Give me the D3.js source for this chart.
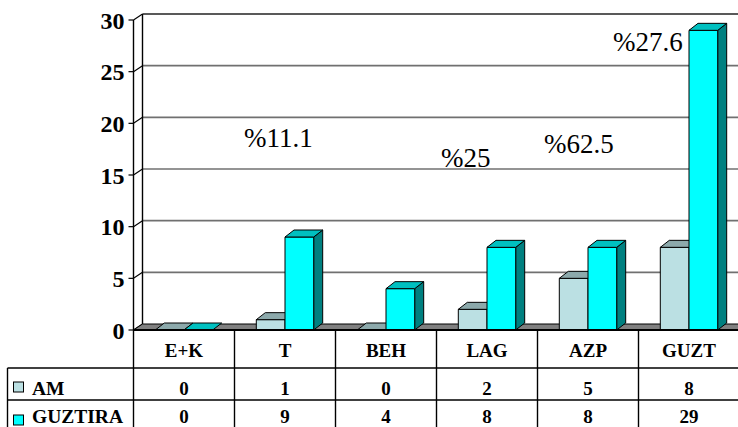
<!DOCTYPE html>
<html><head><meta charset="utf-8">
<script src="https://cdn.jsdelivr.net/npm/d3@7"></script>
<style>
html,body{margin:0;padding:0;background:#fff;}
svg{display:block;}
</style></head>
<body>
<script>
// ---- data ----
const categories = ["E+K", "T", "BEH", "LAG", "AZP", "GUZT"];
const seriesNames = ["AM", "GUZTIRA"];
const amValues = [0, 1, 0, 2, 5, 8];
const guztiraValues = [0, 9, 4, 8, 8, 29];
const yTicks = [0, 5, 10, 15, 20, 25, 30];
const pctLabels = ["%11.1", "%25", "%62.5", "%27.6"];
const pctCategories = ["T", "LAG", "AZP", "GUZT"];

// ---- layout ----
const W = 738, H = 427;
const FONT = "Liberation Serif";
const svg = d3.select("body").append("svg").attr("width", W).attr("height", H)
  .attr("font-family", FONT);

const x = d3.scaleBand().domain(categories).range([133.5, 739.5]).padding(0);
const y = d3.scaleLinear().domain([0, 30]).range([330, 20]);
const dx = 9, dy = -6;        // wall depth
const bdx = 9, bdy = -7;      // bar depth
const barW = 28.7;

const colors = {
  AM: {front: "#BBE0E3", top: "#8CA9AB", side: "#5E7A7C"},
  GUZTIRA: {front: "#00FFFF", top: "#00C0C0", side: "#008080"}
};

const g = svg.append("g");

yTicks.forEach(v => {
  const yy = y(v);
  if (v > 0 && v < 30) {
    g.append("line").attr("x1", 133.5 + dx).attr("x2", W + 2)
      .attr("y1", yy + dy).attr("y2", yy + dy)
      .attr("stroke", "#707070").attr("stroke-width", 1.6);
  }
  g.append("line").attr("x1", 133.5).attr("y1", yy).attr("x2", 133.5 + dx).attr("y2", yy + dy)
    .attr("stroke", "#000").attr("stroke-width", 1.2);
});
g.append("line").attr("x1", 133.5 + dx).attr("x2", W + 2)
  .attr("y1", y(30) + dy).attr("y2", y(30) + dy)
  .attr("stroke", "#222").attr("stroke-width", 1.6);
g.append("line").attr("x1", 133.5 + dx).attr("x2", 133.5 + dx)
  .attr("y1", y(30) + dy).attr("y2", y(0) + dy)
  .attr("stroke", "#000").attr("stroke-width", 1.4);

g.append("path")
  .attr("d", `M133.5,${y(0)} L${133.5 + dx},${y(0) + dy} L${W + 20},${y(0) + dy} L${W + 20},${y(0)} Z`)
  .attr("fill", "#808080").attr("stroke", "#000").attr("stroke-width", 1);

function bar(x0, v, c) {
  const x1 = x0 + barW, yt = y(v), yb = y(0);
  const bg = g.append("g").attr("stroke", "#000").attr("stroke-width", 1).attr("stroke-linejoin", "round");
  if (v > 0) {
    bg.append("path").attr("d", `M${x1},${yb} L${x1 + bdx},${yb + bdy} L${x1 + bdx},${yt + bdy} L${x1},${yt} Z`).attr("fill", c.side);
    bg.append("rect").attr("x", x0).attr("y", yt).attr("width", barW).attr("height", yb - yt).attr("fill", c.front);
  }
  bg.append("path").attr("d", `M${x0},${yt} L${x0 + bdx},${yt + bdy} L${x1 + bdx},${yt + bdy} L${x1},${yt} Z`).attr("fill", c.top);
}
categories.forEach((cat, i) => {
  const c = x(cat) + x.bandwidth() / 2;
  bar(c - barW, amValues[i], colors.AM);
  bar(c, guztiraValues[i], colors.GUZTIRA);
});

g.append("line").attr("x1", 133.5).attr("x2", 133.5).attr("y1", y(30)).attr("y2", y(0))
  .attr("stroke", "#000").attr("stroke-width", 1.4);
yTicks.forEach(v => {
  g.append("line").attr("x1", 128.5).attr("x2", 133.5).attr("y1", y(v)).attr("y2", y(v))
    .attr("stroke", "#000").attr("stroke-width", 1.2);
  g.append("text").attr("x", 124.5).attr("y", y(v) + 8.5).attr("text-anchor", "end")
    .attr("font-family", FONT).attr("font-size", 24).attr("font-weight", "bold").text(v);
});

const pctOffsets = {T: [-41, 147], LAG: [-46, 167], AZP: [-44, 153], GUZT: [-76, 51]};
pctLabels.forEach((t, i) => {
  const cat = pctCategories[i];
  const o = pctOffsets[cat];
  g.append("text").attr("x", x(cat) + x.bandwidth() / 2 + o[0]).attr("y", o[1])
    .attr("font-family", FONT).attr("font-size", 27).text(t);
});

const tb = svg.append("g").attr("stroke", "#000").attr("stroke-width", 1.4);
tb.append("line").attr("x1", 133.5).attr("x2", W + 2).attr("y1", 330).attr("y2", 330).attr("stroke-width", 2);
[368, 400].forEach(yy => tb.append("line").attr("x1", 7.5).attr("x2", W + 2).attr("y1", yy).attr("y2", yy));
categories.forEach(cat => {
  tb.append("line").attr("x1", x(cat)).attr("x2", x(cat)).attr("y1", 330).attr("y2", H + 2);
});
tb.append("line").attr("x1", 739.5).attr("x2", 739.5).attr("y1", 330).attr("y2", H + 2);
tb.append("line").attr("x1", 7.5).attr("x2", 7.5).attr("y1", 368).attr("y2", H + 2);

const tt = svg.append("g").attr("font-size", 19).attr("font-weight", "bold").attr("text-anchor", "middle");
categories.forEach((cat, i) => {
  const cx = x(cat) + x.bandwidth() / 2;
  tt.append("text").attr("x", cx).attr("y", 357).attr("font-family", FONT).text(cat);
  tt.append("text").attr("x", cx).attr("y", 394.5).attr("font-family", FONT).text(amValues[i]);
  tt.append("text").attr("x", cx).attr("y", 423).attr("font-family", FONT).text(guztiraValues[i]);
});
const keyY = [382, 415];
seriesNames.forEach((s, i) => {
  svg.append("rect").attr("x", 13.5).attr("y", keyY[i]).attr("width", 10).attr("height", 10)
    .attr("fill", colors[s].front).attr("stroke", "#000").attr("stroke-width", 1);
  svg.append("text").attr("x", 32).attr("y", [394.5, 423][i]).attr("font-size", 19.5)
    .attr("font-family", FONT).attr("font-weight", "bold").text(s);
});
</script>
</body></html>
